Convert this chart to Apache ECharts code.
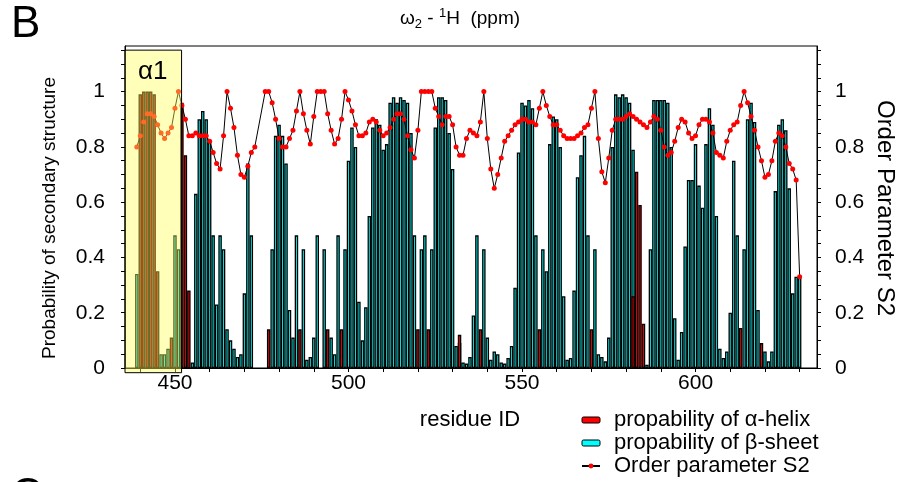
<!DOCTYPE html>
<html>
<head>
<meta charset="utf-8">
<script src="https://cdn.jsdelivr.net/npm/echarts@6/dist/echarts.min.js"></script>
<style>
html,body{margin:0;padding:0;background:#fff;}
#chart{width:902px;height:482px;}
</style>
</head>
<body>
<div id="chart"></div>
<script>
// ---- data (residue 436 .. 630) ----
const firstResidue = 436;
const betaSheet = [
  0, 0, 0, 0.34, 0, 0, 0, 0, 0, 0,
  0.05, 0.05, 0.07, 0, 0.48, 0.43, 0, 0, 0, 0.02,
  0.63, 0.90, 0.93, 0.90, 0.82, 0.48, 0.23, 0.48, 0.43, 0.14,
  0.10, 0.07, 0.04, 0.05, 0.27, 0.74, 0.48, 0, 0, 0,
  0, 0, 0.43, 0.84, 0.88, 0.84, 0.74, 0.21, 0.11, 0.48,
  0, 0.43, 0.03, 0.04, 0.11, 0.48, 0, 0.43, 0, 0.11,
  0.05, 0.48, 0, 0.43, 0.75, 0.87, 0.80, 0.24, 0.10, 0.22,
  0.55, 0.87, 0.90, 0.88, 0.79, 0.81, 0.96, 0.98, 0.96, 0.98,
  0.97, 0.96, 0.85, 0.48, 0, 0.43, 0.48, 0, 0.43, 0.87,
  0.98, 0.98, 0.97, 0.85, 0.72, 0.08, 0.09, 0.02, 0.016, 0.04,
  0.19, 0.48, 0, 0.43, 0.11, 0.03, 0.06, 0.05, 0.02, 0.016,
  0.036, 0.08, 0.29, 0.78, 0.96, 0.95, 0.97, 0.94, 0.48, 0,
  0.43, 0.35, 0.81, 0.91, 0.90, 0.80, 0.26, 0.03, 0.036, 0.28,
  0.69, 0.77, 0.84, 0.48, 0, 0.43, 0.05, 0.04, 0.024, 0.11,
  0.80, 0.99, 0.98, 0.99, 0.98, 0.96, 0.79, 0, 0, 0,
  0.012, 0.43, 0.97, 0.97, 0.97, 0.97, 0.96, 0.80, 0.18, 0.03,
  0.13, 0.44, 0.68, 0.68, 0.81, 0.66, 0.58, 0.81, 0.94, 0.88,
  0.55, 0.07, 0.036, 0.06, 0.20, 0.75, 0.48, 0, 0.43, 0.90,
  0.96, 0.89, 0.21, 0, 0.06, 0.024, 0.06, 0.64, 0.88, 0.90,
  0.86, 0.65, 0.27, 0.33, 0.33
];
const alphaHelix = [
  0, 0, 0, 0, 0.99, 1.0, 1.0, 1.0, 0.99, 0.35,
  0, 0, 0, 0.11, 0, 0, 0.96, 0.77, 0.28, 0,
  0, 0, 0, 0, 0, 0, 0, 0, 0, 0,
  0, 0, 0, 0, 0, 0, 0, 0, 0, 0,
  0, 0.14, 0, 0, 0, 0, 0, 0, 0, 0,
  0.14, 0, 0, 0, 0, 0, 0, 0, 0.14, 0,
  0, 0, 0.14, 0, 0, 0, 0, 0, 0, 0,
  0, 0, 0, 0, 0, 0, 0, 0, 0, 0,
  0, 0, 0, 0, 0.14, 0, 0, 0.14, 0, 0,
  0, 0, 0, 0, 0, 0, 0.12, 0, 0, 0,
  0, 0, 0.14, 0, 0, 0, 0, 0, 0, 0,
  0, 0, 0, 0, 0, 0, 0, 0, 0, 0.14,
  0, 0, 0, 0, 0, 0, 0, 0, 0, 0,
  0, 0, 0, 0, 0.14, 0, 0, 0, 0, 0,
  0, 0, 0, 0, 0, 0, 0.26, 0.71, 0.59, 0.16,
  0, 0, 0, 0, 0, 0, 0, 0, 0, 0,
  0, 0, 0, 0, 0, 0, 0, 0, 0, 0,
  0, 0, 0, 0, 0, 0, 0, 0.145, 0, 0,
  0, 0, 0, 0.09, 0, 0, 0, 0, 0, 0,
  0, 0, 0, 0, 0
];
const orderS2 = [
  null, null, null, 0.80, 0.84, 0.89, 0.92, 0.92, 0.91, 0.88,
  0.85, 0.83, 0.85, 0.87, 0.94, 1.0, 0.95, 0.90, 0.84, 0.84,
  0.85, 0.84, 0.84, 0.84, 0.82, 0.78, 0.74, 0.72, 0.84, 1.0,
  0.94, 0.87, 0.77, 0.70, 0.69, 0.73, 0.78, 0.80, null, null,
  1.0, 1.0, 0.96, 0.90, 0.83, 0.80, 0.80, 0.83, 0.86, 0.93,
  1.0, 0.92, 0.86, 0.81, 0.91, 1.0, 1.0, 1.0, 0.92, 0.86,
  0.81, 0.83, 0.90, 1.0, 0.97, 0.93, 0.88, 0.84, 0.84, 0.85,
  0.89, 0.90, 0.89, 0.86, 0.84, 0.85, 0.87, 0.90, 0.92, 0.92,
  0.90, 0.84, 0.79, 0.76, 0.86, 1.0, 1.0, 1.0, 1.0, 0.94,
  0.91, 0.88, 0.91, 0.91, 0.88, 0.80, 0.77, 0.77, 0.83, 0.86,
  0.85, 0.84, 0.89, 1.0, 0.83, 0.72, 0.65, 0.70, 0.76, 0.82,
  0.84, 0.86, 0.88, 0.89, 0.90, 0.90, 0.89, 0.89, 0.88, 0.94,
  1.0, 0.95, 0.91, 0.88, 0.88, 0.86, 0.84, 0.83, 0.83, 0.83,
  0.84, 0.85, 0.87, 0.88, 0.94, 1.0, 0.83, 0.71, 0.67, 0.76,
  0.86, 0.90, 0.90, 0.90, 0.91, 0.92, 0.91, 0.90, 0.89, 0.88,
  0.87, 0.89, 0.91, 0.90, 0.86, 0.80, 0.77, 0.78, 0.82, 0.87,
  0.90, 0.89, 0.85, 0.83, 0.84, 0.88, 0.90, 0.90, 0.89, 0.85,
  0.78, 0.77, 0.76, 0.82, 0.86, 0.88, 0.89, 0.95, 1.0, 0.96,
  0.91, 0.86, 0.80, 0.75, 0.69, 0.70, 0.75, 0.82, 0.85, 0.84,
  0.80, 0.74, 0.72, 0.68, 0.33
];
const xLabelValues = [450, 500, 550, 600];
const xTickValues = [440, 450, 460, 470, 480, 490, 500, 510, 520, 530, 540, 550, 560, 570, 580, 590, 600, 610, 620, 630];
const yLabelValues = [0, 0.2, 0.4, 0.6, 0.8, 1];
const yTickValues = [0, 0.05, 0.1, 0.15, 0.2, 0.25, 0.3, 0.35, 0.4, 0.45, 0.5, 0.55, 0.6, 0.65, 0.7, 0.75, 0.8, 0.85, 0.9, 0.95, 1, 1.05, 1.1, 1.15];
const helixRegion = [435.6, 451.9];   // alpha1 highlight (residue range)
const helixRegionY = [-0.017, 1.15];
const xMin = 435.6, xMax = 635;
const yMin = 0, yMax = 1.165;

// ---- build ----
const FONT = '"Liberation Sans", Arial, Helvetica, sans-serif';
const gridBox = { left: 125, top: 46, right: 85, bottom: 114 };
const plotW = 902 - gridBox.left - gridBox.right;
const barW = plotW / (xMax - xMin);

const toPairs = (arr, skipZero) => arr.map((v, i) => [firstResidue + i, v])
  .filter(p => skipZero ? (p[1] !== null && p[1] > 0) : true);

const chart = echarts.init(document.getElementById('chart'), null, { renderer: 'canvas' });

const yAxisCommon = {
  type: 'value', min: yMin, max: yMax,
  axisLine: { show: true, lineStyle: { color: '#000', width: 1 } },
  axisTick: { show: true, inside: false, length: 4, customValues: yTickValues, lineStyle: { color: '#000' } },
  axisLabel: { customValues: yLabelValues, color: '#000', fontFamily: FONT, fontSize: 21 },
  splitLine: { show: false }
};

const option = {
  animation: false,
  backgroundColor: '#fff',
  grid: Object.assign({ show: true, borderColor: '#000', borderWidth: 1, containLabel: false }, gridBox),
  xAxis: {
    type: 'value', min: xMin, max: xMax,
    axisLine: { show: true, onZero: false, lineStyle: { color: '#000', width: 1 } },
    axisTick: { show: true, length: 4, customValues: xTickValues, lineStyle: { color: '#000' } },
    axisLabel: { customValues: xLabelValues, color: '#000', fontFamily: FONT, fontSize: 21, margin: 5 },
    splitLine: { show: false }
  },
  yAxis: [
    Object.assign({}, yAxisCommon, { position: 'left', axisLabel: Object.assign({}, yAxisCommon.axisLabel, { margin: 20 }) }),
    Object.assign({}, yAxisCommon, { position: 'right', axisLabel: Object.assign({}, yAxisCommon.axisLabel, { margin: 18 }) })
  ],
  legend: {
    orient: 'vertical', left: 581, top: 409, padding: 0, itemWidth: 18, itemHeight: 6, itemGap: 1,
    data: ['propability of α-helix', 'propability of β-sheet', 'Order parameter S2'],
    itemStyle: { borderWidth: 1 },
    textStyle: { color: '#000', fontFamily: FONT, fontSize: 22, lineHeight: 22, padding: [0, 0, 0, 9] },
    selectedMode: false
  },
  series: [
    {
      name: 'propability of β-sheet', type: 'bar', xAxisIndex: 0, yAxisIndex: 0,
      data: toPairs(betaSheet, true), barWidth: barW, barGap: '-100%',
      itemStyle: { color: '#00ffff', borderColor: '#000', borderWidth: 1.3 }, z: 2
    },
    {
      name: 'propability of α-helix', type: 'bar', xAxisIndex: 0, yAxisIndex: 0,
      data: toPairs(alphaHelix, true), barWidth: barW, barGap: '-100%',
      itemStyle: { color: '#ff0000', borderColor: '#000', borderWidth: 1.3 }, z: 3
    },
    {
      name: 'Order parameter S2', type: 'line', xAxisIndex: 0, yAxisIndex: 1,
      data: toPairs(orderS2, false), connectNulls: true,
      symbol: 'circle', symbolSize: 5, showSymbol: true,
      lineStyle: { color: '#000', width: 1 },
      itemStyle: { color: '#ff0000', borderWidth: 0 }, z: 4
    }
  ]
};
chart.setOption(option);

// highlight box and texts (annotation positions derived from the axes)
const p0 = chart.convertToPixel({ xAxisIndex: 0, yAxisIndex: 0 }, [helixRegion[0], helixRegionY[1]]);
const p1 = chart.convertToPixel({ xAxisIndex: 0, yAxisIndex: 0 }, [helixRegion[1], helixRegionY[0]]);
chart.setOption({
  graphic: [
    { type: 'rect', z: 100, shape: { x: p0[0], y: p0[1], width: p1[0] - p0[0], height: p1[1] - p0[1] },
      style: { fill: 'rgba(255,255,90,0.42)', stroke: '#000', lineWidth: 1 } },
    { type: 'text', z: 101, x: p0[0] + 13, y: p0[1] + 22,
      style: { text: 'α1', fill: '#000', font: '26px ' + FONT, verticalAlign: 'middle', align: 'left' } },
    { type: 'text', z: 101, x: 11, y: 25,
      style: { text: 'B', fill: '#000', font: '44px ' + FONT, verticalAlign: 'middle', align: 'left' } },
    { type: 'text', z: 101, x: 11, y: 497,
      style: { text: 'C', fill: '#000', font: '44px ' + FONT, verticalAlign: 'middle', align: 'left' } },
    { type: 'text', z: 101, x: 460, y: 19,
      style: {
        text: '{a|ω}{s|2}{a| - }{p|1}{a|H  (ppm)}', align: 'center', verticalAlign: 'middle',
        rich: {
          a: { fontSize: 19, fontFamily: FONT, fill: '#000', lineHeight: 24 },
          s: { fontSize: 13, fontFamily: FONT, fill: '#000', lineHeight: 24, verticalAlign: 'bottom', padding: [8, 0, 0, 0] },
          p: { fontSize: 13, fontFamily: FONT, fill: '#000', lineHeight: 24, verticalAlign: 'top', padding: [0, 0, 8, 0] }
        }
      } },
    { type: 'text', z: 101, x: 50, y: 218, rotation: Math.PI / 2,
      style: { text: 'Probability of secondary structure', fill: '#000', font: '19px ' + FONT, align: 'center', verticalAlign: 'middle' } },
    { type: 'text', z: 101, x: 885, y: 208, rotation: -Math.PI / 2,
      style: { text: 'Order Parameter S2', fill: '#000', font: '24px ' + FONT, align: 'center', verticalAlign: 'middle' } },
    { type: 'text', z: 101, x: 470, y: 420,
      style: { text: 'residue ID', fill: '#000', font: '22px ' + FONT, align: 'center', verticalAlign: 'middle' } }
  ]
});
</script>
</body>
</html>
